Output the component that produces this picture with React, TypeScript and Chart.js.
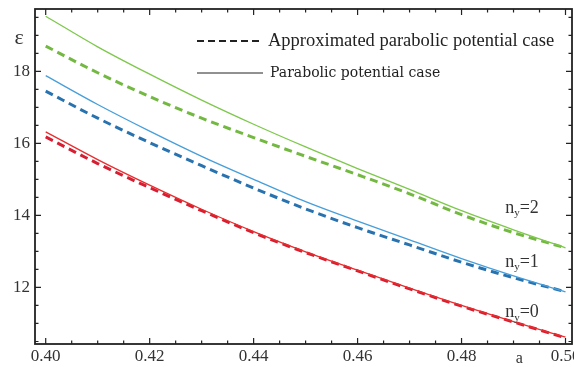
import React, { useEffect, useRef } from "react";
import { Chart, registerables } from "chart.js";

Chart.register(...registerables);

// ---- data ----
const aValues = [0.4, 0.41, 0.42, 0.43, 0.44, 0.45, 0.46, 0.47, 0.48, 0.49, 0.5];

const ny2Parabolic = [19.53, 18.68, 17.92, 17.2, 16.53, 15.9, 15.3, 14.72, 14.13, 13.6, 13.1];
const ny2Approx = [18.7, 17.96, 17.3, 16.7, 16.16, 15.64, 15.13, 14.6, 14.02, 13.52, 13.1];

const ny1Parabolic = [17.88, 17.08, 16.34, 15.64, 15.0, 14.38, 13.84, 13.32, 12.8, 12.32, 11.88];
const ny1Approx = [17.45, 16.7, 16.02, 15.38, 14.76, 14.18, 13.66, 13.18, 12.7, 12.27, 11.88];

const ny0Parabolic = [16.32, 15.55, 14.84, 14.17, 13.55, 12.99, 12.48, 11.98, 11.5, 11.05, 10.62];
const ny0Approx = [16.18, 15.44, 14.77, 14.13, 13.52, 12.97, 12.46, 11.96, 11.48, 11.04, 10.6];

const legendLabels = ["Approximated parabolic potential case", "Parabolic potential case"];
const curveLabels = ["=2", "=1", "=0"];
const curveLabelA = [0.4884, 0.4884, 0.4884];
const curveLabelE = [14.21, 12.71, 11.3];
const xAxisTitle = "a";
const yAxisTitle = "ε";

// ---- styles ----
const GREEN_SOLID = "rgb(125,200,75)";
const GREEN_DASH = "rgb(115,185,65)";
const BLUE_SOLID = "rgb(70,158,218)";
const BLUE_DASH = "rgb(40,115,175)";
const RED_SOLID = "rgb(232,45,45)";
const RED_DASH = "rgb(215,30,50)";
const SERIF = "'Liberation Serif', 'Times New Roman', serif";

const pts = (vals: number[]) => vals.map((v, i) => ({ x: aValues[i], y: v }));

const isMajorX = (v: number) => Math.abs(v * 50 - Math.round(v * 50)) < 1e-6;
const isMajorY = (v: number) => Math.abs(v / 2 - Math.round(v / 2)) < 1e-6;

const framePlugin = {
  id: "framePlugin",
  afterDraw(chart: any) {
    const { ctx, chartArea: ca, scales } = chart;
    const x = scales.x;
    const y = scales.y;
    ctx.save();
    ctx.strokeStyle = "#222";
    ctx.lineWidth = 1.8;
    ctx.strokeRect(ca.left, ca.top, ca.right - ca.left, ca.bottom - ca.top);
    ctx.lineWidth = 1.2;
    ctx.beginPath();
    x.ticks.forEach((t: any) => {
      const px = x.getPixelForValue(t.value);
      if (px < ca.left + 1 || px > ca.right - 1) return;
      const len = isMajorX(t.value) ? 6 : 3.5;
      ctx.moveTo(px, ca.bottom);
      ctx.lineTo(px, ca.bottom - len);
      ctx.moveTo(px, ca.top);
      ctx.lineTo(px, ca.top + len);
    });
    y.ticks.forEach((t: any) => {
      const py = y.getPixelForValue(t.value);
      if (py < ca.top + 1 || py > ca.bottom - 1) return;
      const len = isMajorY(t.value) ? 6 : 3.5;
      ctx.moveTo(ca.left, py);
      ctx.lineTo(ca.left + len, py);
      ctx.moveTo(ca.right, py);
      ctx.lineTo(ca.right - len, py);
    });
    ctx.stroke();

    // legend
    ctx.fillStyle = "#222";
    ctx.textBaseline = "middle";
    ctx.textAlign = "left";
    const lx0 = ca.left + 162;
    const lx1 = ca.left + 228;
    const ly0 = ca.top + 32;
    const ly1 = ca.top + 64;
    ctx.strokeStyle = "#222";
    ctx.lineWidth = 2;
    ctx.setLineDash([7, 4]);
    ctx.beginPath();
    ctx.moveTo(lx0, ly0);
    ctx.lineTo(lx1, ly0);
    ctx.stroke();
    ctx.setLineDash([]);
    ctx.lineWidth = 1;
    ctx.beginPath();
    ctx.moveTo(lx0, ly1);
    ctx.lineTo(lx1, ly1);
    ctx.stroke();
    ctx.font = `18.5px ${SERIF}`;
    ctx.fillText(legendLabels[0], lx1 + 5, ly0);
    ctx.font = `14px 'DejaVu Serif', serif`;
    ctx.fillText(legendLabels[1], lx1 + 7, ly1);

    // curve labels n_y=...
    curveLabels.forEach((s, i) => {
      const px = x.getPixelForValue(curveLabelA[i]);
      const py = y.getPixelForValue(curveLabelE[i]);
      ctx.fillStyle = "#333";
      ctx.font = `18px ${SERIF}`;
      ctx.textAlign = "left";
      ctx.fillText("n", px, py);
      const w = ctx.measureText("n").width;
      ctx.font = `11px ${SERIF}`;
      ctx.fillText("y", px + w, py + 5);
      const w2 = ctx.measureText("y").width;
      ctx.font = `18px ${SERIF}`;
      ctx.fillText(s, px + w + w2, py);
    });

    // axis titles
    ctx.fillStyle = "#333";
    ctx.font = `22px ${SERIF}`;
    ctx.textAlign = "center";
    ctx.fillText(yAxisTitle, ca.left - 16, ca.top + 29);
    ctx.font = `16px ${SERIF}`;
    ctx.fillText(xAxisTitle, x.getPixelForValue(0.4911), ca.bottom + 15);
    ctx.restore();
  },
};

export default function App() {
  const ref = useRef<HTMLCanvasElement | null>(null);
  useEffect(() => {
    document.body.style.margin = "0";
    const canvas = ref.current!;
    const chart = new Chart(canvas, {
      type: "line",
      data: {
        datasets: [
          { data: pts(ny2Parabolic), borderColor: GREEN_SOLID, borderWidth: 1.3 },
          { data: pts(ny2Approx), borderColor: GREEN_DASH, borderWidth: 3, borderDash: [8, 5] },
          { data: pts(ny1Parabolic), borderColor: BLUE_SOLID, borderWidth: 1.3 },
          { data: pts(ny1Approx), borderColor: BLUE_DASH, borderWidth: 3, borderDash: [8, 5] },
          { data: pts(ny0Parabolic), borderColor: RED_SOLID, borderWidth: 1.3 },
          { data: pts(ny0Approx), borderColor: RED_DASH, borderWidth: 3, borderDash: [8, 5] },
        ].map((d) => ({
          ...d,
          fill: false,
          pointRadius: 0,
          cubicInterpolationMode: "monotone" as const,
        })),
      },
      options: {
        animation: false,
        responsive: false,
        maintainAspectRatio: false,
        layout: { padding: { top: 9, right: 2, left: 0, bottom: 0 } },
        plugins: { legend: { display: false }, tooltip: { enabled: false } },
        scales: {
          x: {
            type: "linear",
            min: 0.39794,
            max: 0.50125,
            grid: { display: false, drawTicks: false },
            border: { display: false },
            afterFit: (s: any) => {
              s.height = 23;
              s.paddingLeft = 0;
              s.paddingRight = 0;
            },
            ticks: {
              stepSize: 0.005,
              includeBounds: false,
              autoSkip: false,
              maxRotation: 0,
              padding: 2,
              color: "#333",
              font: { family: SERIF, size: 17 },
              callback: (v: any) => (isMajorX(Number(v)) ? Number(v).toFixed(2) : ""),
            },
          },
          y: {
            type: "linear",
            min: 10.43,
            max: 19.73,
            grid: { display: false, drawTicks: false },
            border: { display: false },
            afterFit: (s: any) => {
              s.width = 35;
              s.paddingTop = 0;
              s.paddingBottom = 0;
            },
            ticks: {
              stepSize: 0.5,
              includeBounds: false,
              autoSkip: false,
              padding: 5,
              color: "#333",
              font: { family: SERIF, size: 17 },
              callback: (v: any) => (isMajorY(Number(v)) ? String(Math.round(Number(v))) : ""),
            },
          },
        },
      },
      plugins: [framePlugin],
    });
    return () => chart.destroy();
  }, []);
  return (
    <div style={{ position: "absolute", left: 0, top: 0, width: 574, height: 367, background: "#fff" }}>
      <canvas ref={ref} width={574} height={367} style={{ width: 574, height: 367 }} />
    </div>
  );
}
